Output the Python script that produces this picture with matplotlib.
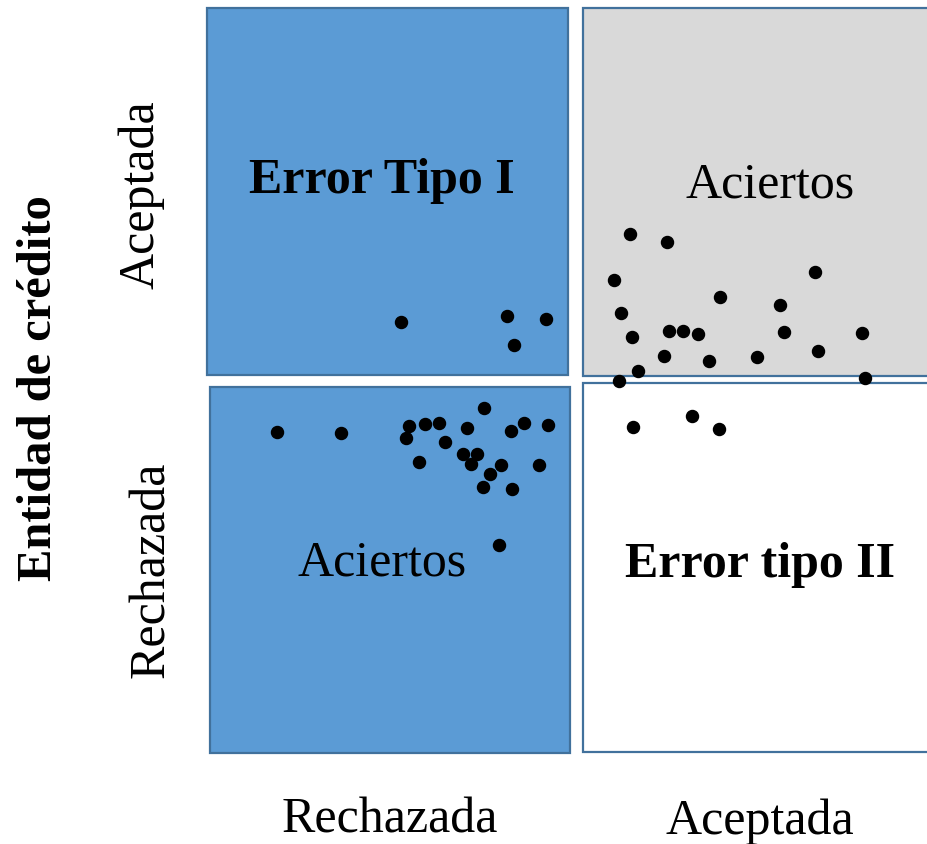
import matplotlib.pyplot as plt
from matplotlib.patches import Rectangle

plt.rcParams['font.family'] = ['Liberation Serif', 'DejaVu Serif']

# scatter points (pixel units, y downwards)
pts_x = [401, 507, 546, 514,
         630, 667, 614, 815, 720, 780, 621, 669, 683, 698, 784, 862, 632,
         664, 709, 757, 818, 638, 619, 865, 692, 633, 719,
         277, 341, 409, 406, 425, 439, 445, 419, 484, 467, 511, 524, 548,
         463, 477, 471, 501, 490, 539, 483, 512, 499]
pts_y = [322, 316, 319, 345,
         234, 242, 280, 272, 297, 305, 313, 331, 331, 334, 332, 333, 337,
         356, 361, 357, 351, 371, 381, 378, 416, 427, 429,
         432, 433, 426, 438, 424, 423, 442, 462, 408, 428, 431, 423, 425,
         454, 454, 464, 465, 474, 465, 487, 489, 545]

# quadrants: (x0, y0, x1, y1, fill)
quads = [(207, 8, 568, 375, '#5B9BD5'),
         (583, 8, 935, 376, '#D9D9D9'),
         (210, 387, 570, 753, '#5B9BD5'),
         (583, 383, 935, 752, 'white')]

cell_text = [(382, 181, 'Error Tipo I', 'bold'),
             (770, 185, 'Aciertos', 'normal'),
             (382, 563, 'Aciertos', 'normal'),
             (760, 565, 'Error tipo II', 'bold')]

fig = plt.figure(figsize=(9.27, 8.44), dpi=100)
ax = fig.add_axes([0, 0, 1, 1])
ax.set_xlim(0, 927)
ax.set_ylim(844, 0)
ax.axis('off')

for x0, y0, x1, y1, c in quads:
    ax.add_patch(Rectangle((x0, y0), x1 - x0, y1 - y0, facecolor=c,
                           edgecolor='#41719C', linewidth=1.6))

for x, y, s, w in cell_text:
    ax.text(x, y, s, fontsize=36, fontweight=w, ha='center', va='center')

ax.scatter(pts_x, pts_y, s=75, color='black', zorder=5)

# axis labels
ax.text(390, 820, 'Rechazada', fontsize=36, ha='center', va='center')
ax.text(760, 822, 'Aceptada', fontsize=36, ha='center', va='center')
ax.text(141, 195, 'Aceptada', fontsize=36, rotation=90, ha='center', va='center')
ax.text(152, 570, 'Rechazada', fontsize=36, rotation=90, ha='center', va='center')
ax.text(39, 388, 'Entidad de crédito', fontsize=35, fontweight='bold',
        rotation=90, ha='center', va='center')

fig.savefig('out.png', dpi=100)
